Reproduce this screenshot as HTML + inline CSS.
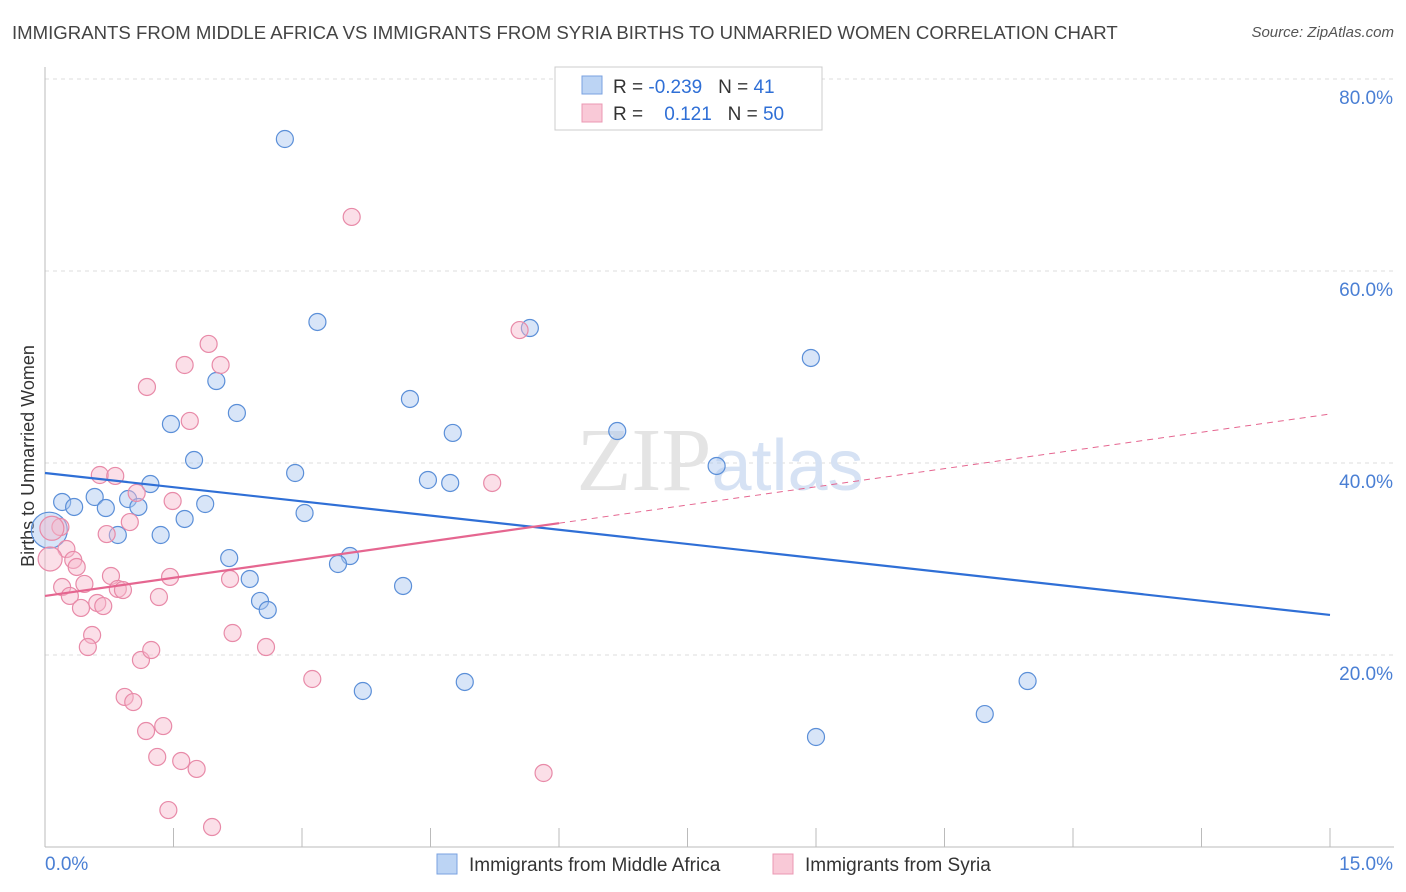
<!DOCTYPE html>
<html><head><meta charset="utf-8"><style>
body{margin:0;background:#fff;font-family:"Liberation Sans",sans-serif;}
#wrap{position:relative;width:1406px;height:892px;overflow:hidden;}
.title{position:absolute;left:12px;top:22px;font-size:18.6px;color:#444;white-space:nowrap;}
.src{position:absolute;right:12px;top:24px;font-size:15px;color:#555;font-style:italic;}
</style></head><body>
<div id="wrap">
<div class="title">IMMIGRANTS FROM MIDDLE AFRICA VS IMMIGRANTS FROM SYRIA BIRTHS TO UNMARRIED WOMEN CORRELATION CHART</div>
<div class="src">Source: ZipAtlas.com</div>
<svg id="svg" width="1406" height="892" style="position:absolute;left:0;top:0"></svg>
</div>
<script>
const yTicks=[20,40,60,80];
const yTickLabels=["20.0%","40.0%","60.0%","80.0%"];
const xTickLabels=["0.0%","15.0%"];
const blueX=[2.80,3.18,5.66,8.94,2.00,4.26,2.24,1.47,4.76,6.68,1.74,7.84,2.92,4.47,4.73,1.23,0.20,0.58,0.97,0.34,0.71,1.09,1.87,1.63,3.03,0.85,1.35,3.56,2.15,3.42,2.39,4.18,2.51,2.60,3.71,4.90,11.47,10.97,9.00];
const blueY=[73.75,54.69,54.06,50.94,48.54,46.67,45.21,44.06,43.13,43.33,40.31,39.69,38.96,38.23,37.92,37.81,35.94,36.46,36.25,35.42,35.31,35.42,35.73,34.17,34.79,32.50,32.50,30.31,30.10,29.48,27.92,27.19,25.63,24.69,16.25,17.19,17.29,13.85,11.46];
const pinkX=[3.58,5.54,1.91,1.63,2.05,1.19,1.69,0.64,0.82,5.22,1.07,1.49,0.99,0.72,0.18,0.25,0.33,0.37,0.20,0.46,0.29,0.77,1.46,2.16,0.85,0.91,0.61,0.68,0.42,1.33,0.55,0.50,2.19,2.58,1.12,1.24,3.12,0.93,1.03,1.38,1.18,1.31,1.59,1.77,5.82,1.44,1.95];
const pinkY=[65.63,53.85,52.40,50.21,50.21,47.92,44.38,38.75,38.65,37.92,36.88,36.04,33.85,32.60,33.33,31.04,29.90,29.17,27.08,27.40,26.15,28.23,28.13,27.92,26.88,26.77,25.42,25.10,24.90,26.04,22.08,20.83,22.29,20.83,19.48,20.52,17.50,15.63,15.10,12.60,12.08,9.38,8.96,8.13,7.71,3.85,2.08];
const bigBlue={x:0.05,y:33.0}, bigPink=[{x:0.08,y:33.2},{x:0.06,y:30.0}];
const blueTrend=[38.96,24.17], pinkTrend=[26.15,45.1], pinkSolidEnd=6.0;
const X=v=>45+v/15*1285, Y=v=>847-v*9.6;
const NS="http://www.w3.org/2000/svg", svgEl=document.getElementById('svg');
function mk(t,a,p){const e=document.createElementNS(NS,t);for(const k in a)e.setAttribute(k,a[k]);(p||svgEl).appendChild(e);return e;}
yTicks.forEach((t,i)=>{
 const g=mk('line',{x1:45,x2:1394,y1:Y(t),y2:Y(t),stroke:'#ddd','stroke-dasharray':'4,4'});
 
 
 const tx=mk('text',{x:1393,y:Y(t)+25,'text-anchor':'end','font-size':19,fill:'#4a7fd4','font-family':'Liberation Sans'});
 tx.textContent=yTickLabels[i];
 
 
});
const topGrid=mk('line',{x1:45,x2:1394,y1:79,y2:79,stroke:'#ddd','stroke-dasharray':'4,4'});

const ya=mk('line',{x1:45,x2:45,y1:67,y2:847,stroke:'#bbb'});


const xa=mk('line',{x1:45,x2:1394,y1:847,y2:847,stroke:'#bbb'});


for(let i=0;i<=10;i++){const t=mk('line',{x1:X(i*1.5),x2:X(i*1.5),y1:828,y2:847,stroke:'#bbb'});
 
 }
const xl=mk('text',{x:45,y:870,'font-size':19,fill:'#4a7fd4','font-family':'Liberation Sans'});xl.textContent=xTickLabels[0];


const xr=mk('text',{x:1393,y:870,'text-anchor':'end','font-size':19,fill:'#4a7fd4','font-family':'Liberation Sans'});xr.textContent=xTickLabels[1];


const yt=mk('text',{x:34,y:456,'text-anchor':'middle','font-size':18,fill:'#333',transform:'rotate(-90 34 456)','font-family':'Liberation Sans'});yt.textContent='Births to Unmarried Women';


const wm=mk('text',{x:720,y:490,'text-anchor':'middle','font-size':90,fill:'#e4e4e4','font-family':'Liberation Serif'});
wm.innerHTML='ZIP<tspan fill="#d6e2f4" font-family="Liberation Sans" font-size="72">atlas</tspan>';


function pt(x,y,r,fill,stroke,name){const c=mk('circle',{cx:X(x),cy:Y(y),r:r,fill:fill,'fill-opacity':0.45,stroke:stroke,'stroke-width':1.2});
 
 }
pt(bigBlue.x,bigBlue.y,18,'#a9c6ef','#5b8fd8','blue-point-large');
blueX.forEach((x,i)=>pt(x,blueY[i],8.5,'#a9c6ef','#5b8fd8','blue-point'));
pinkX.forEach((x,i)=>pt(x,pinkY[i],8.5,'#f7b8cb','#e88aa8','pink-point'));
bigPink.forEach(p=>pt(p.x,p.y,12,'#f7b8cb','#e88aa8','pink-point-large'));
const bl=mk('line',{x1:X(0),y1:Y(blueTrend[0]),x2:X(15),y2:Y(blueTrend[1]),stroke:'#2f6fd6','stroke-width':2.2});


const pe=pinkTrend[0]+(pinkTrend[1]-pinkTrend[0])*pinkSolidEnd/15;
const ps=mk('line',{x1:X(0),y1:Y(pinkTrend[0]),x2:X(pinkSolidEnd),y2:Y(pe),stroke:'#e56690','stroke-width':2.2});


const pd=mk('line',{x1:X(pinkSolidEnd),y1:Y(pe),x2:X(15),y2:Y(pinkTrend[1]),stroke:'#e56690','stroke-width':1,'stroke-dasharray':'6,5'});


const lg=mk('g',{});


mk('rect',{x:555,y:67,width:267,height:63,fill:'#fff',stroke:'#ccc'},lg);
mk('rect',{x:582,y:76,width:20,height:18,fill:'#bcd4f4',stroke:'#7aa2e0'},lg);
mk('rect',{x:582,y:104,width:20,height:18,fill:'#f9c9d7',stroke:'#eb98b3'},lg);
const l1=mk('text',{x:613,y:93,'font-size':19,fill:'#333','font-family':'Liberation Sans'},lg);
l1.innerHTML='R = <tspan fill="#2f6fd6">-0.239</tspan>   N = <tspan fill="#2f6fd6">41</tspan>';
l1.style.whiteSpace='pre';
const l2=mk('text',{x:613,y:120,'font-size':19,fill:'#333','font-family':'Liberation Sans'},lg);
l2.innerHTML='R =    <tspan fill="#2f6fd6">0.121</tspan>   N = <tspan fill="#2f6fd6">50</tspan>';
l2.style.whiteSpace='pre';
const bl2=mk('g',{});


mk('rect',{x:437,y:854,width:20,height:20,fill:'#bcd4f4',stroke:'#7aa2e0'},bl2);
const b1=mk('text',{x:469,y:871,'font-size':19,fill:'#333','font-family':'Liberation Sans'},bl2);b1.textContent='Immigrants from Middle Africa';
mk('rect',{x:773,y:854,width:20,height:20,fill:'#f9c9d7',stroke:'#eb98b3'},bl2);
const b2=mk('text',{x:805,y:871,'font-size':19,fill:'#333','font-family':'Liberation Sans'},bl2);b2.textContent='Immigrants from Syria';
</script>
</body></html>
